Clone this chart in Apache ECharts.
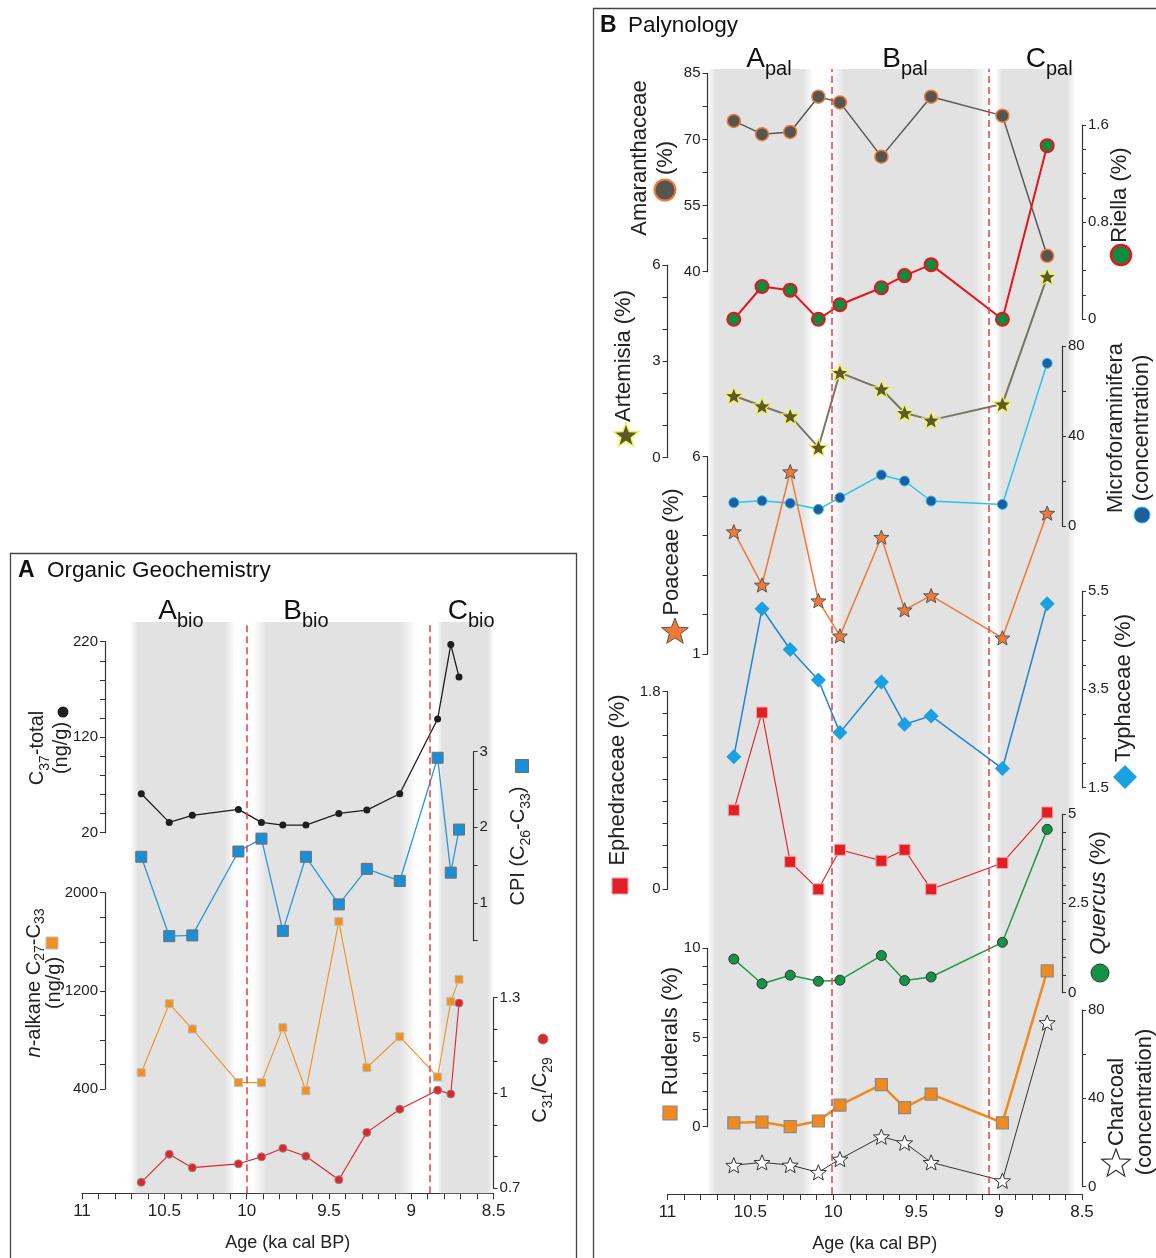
<!DOCTYPE html>
<html>
<head>
<meta charset="utf-8">
<script src="https://cdn.jsdelivr.net/npm/echarts@6/dist/echarts.min.js"></script>
<style>
html, body { margin: 0; padding: 0; background: #fff; }
#main { width: 1156px; height: 1258px; }
</style>
</head>
<body>
<div id="main"></div>
<script>
// ---- A: organic geochemistry ----
var agesA = [10.64, 10.47, 10.33, 10.05, 9.91, 9.78, 9.64, 9.44, 9.27, 9.07, 8.84, 8.76, 8.71];
var c37Total = [60.8, 30.8, 38.2, 44.4, 30.8, 28, 28, 40.2, 43.7, 60.8, 139, 217, 183];
var cpi = [1.61, 0.56, 0.57, 1.68, 1.85, 0.63, 1.61, 0.98, 1.45, 1.29, 2.92, 1.40, 1.97];
var nAlkane = [533, 1095, 889, 452, 452, 900, 386, 1766, 574, 826, 498, 1114, 1294];
var c31c29 = [0.719, 0.807, 0.765, 0.777, 0.799, 0.826, 0.801, 0.727, 0.876, 0.949, 1.009, 0.997, 1.283];
var zonesA = [[10.71, 10.07], [9.96, 8.97], [8.84, 8.48]];
var boundsA = [10.0, 8.89];

// ---- B: palynology ----
var agesB = [10.60, 10.43, 10.26, 10.09, 9.96, 9.71, 9.57, 9.41, 8.98, 8.71];
var amaranthaceae = [74.2, 71.2, 71.7, 79.7, 78.4, 66.1, null, 79.7, 75.4, 43.6];
var riella = [0, 0.27, 0.24, 0, 0.12, 0.26, 0.36, 0.45, 0, 1.43];
var artemisia = [1.93, 1.61, 1.30, 0.32, 2.65, 2.14, 1.40, 1.17, 1.67, 5.64];
var microforaminifera = [10.4, 11.2, 10.1, 7.4, 12.6, 22.7, 20.0, 11.1, 9.6, 72.3];
var poaceae = [4.10, 2.75, 5.62, 2.35, 1.46, 3.96, 2.12, 2.48, 1.41, 4.57];
var typhaceae = [2.13, 5.14, 4.31, 3.69, 2.62, 3.65, 2.79, 2.96, 1.89, 5.24];
var ephedraceae = [0.72, 1.61, 0.25, 0, 0.36, 0.26, 0.36, 0, 0.24, 0.70];
var quercus = [0.94, 0.25, 0.49, 0.32, 0.35, 1.04, 0.34, 0.44, 1.41, 4.57];
var ruderals = [0.22, 0.26, 0, 0.32, 1.21, 2.36, 1.07, 1.83, 0.22, 8.73];
var charcoal = [9.7, 11.0, 9.8, 6.5, 12.5, 22.6, 19.9, 11.0, 2.7, 74.3];
var zonesB = [[10.76, 10.12], [10.01, 9.06], [9.02, 8.54]];
var boundsB = [10.01, 9.06];

var F = 'Liberation Sans, Arial, Helvetica, sans-serif';
var STAR = 'path://M0,-10L2.6,-3.4L9.51,-3.09L4.1,1.4L5.88,8.09L0,4.3L-5.88,8.09L-4.1,1.4L-9.51,-3.09L-2.6,-3.4Z';

var chart = echarts.init(document.getElementById('main'));
var grid = [], xAxis = [], yAxis = [], series = [], graphic = [];

var panelA = { left: 82, width: 411.6 };
var panelB = { left: 667.5, width: 414.5 };

function labelFmt(list) {
  return function (v) {
    for (var i = 0; i < list.length; i++) {
      if (Math.abs(v - list[i]) < 1e-6) return String(list[i]);
    }
    return '';
  };
}

function pairs(ages, vals) {
  var out = [];
  for (var i = 0; i < ages.length; i++) {
    if (vals[i] != null) out.push([ages[i], vals[i]]);
  }
  return out;
}

// base grid: age axis, zone shading, zone boundaries
function addBase(p, top, bottom, zones, bounds) {
  grid.push({ left: p.left, width: p.width, top: top, height: bottom - top });
  var g = grid.length - 1;
  xAxis.push({
    type: 'value', gridIndex: g, min: 8.5, max: 11, interval: 0.5, inverse: true,
    name: 'Age (ka cal BP)', nameLocation: 'middle', nameGap: 41,
    nameTextStyle: { fontSize: 18, fontFamily: F, color: '#222' },
    axisLine: { lineStyle: { color: '#333', width: 1.2 } },
    axisTick: { length: 6, lineStyle: { color: '#333' } },
    minorTick: { show: true, splitNumber: 5, length: 6, lineStyle: { color: '#333' } },
    axisLabel: { fontSize: 17, fontFamily: F, color: '#222', margin: 10 },
    splitLine: { show: false }
  });
  yAxis.push({ type: 'value', gridIndex: g, min: 0, max: 1, show: false });
  var shade = new echarts.graphic.LinearGradient(0, 0, 1, 0, [
    { offset: 0, color: 'rgba(226,226,226,0)' },
    { offset: 0.08, color: '#e2e2e2' },
    { offset: 0.9, color: '#e2e2e2' },
    { offset: 1, color: 'rgba(226,226,226,0)' }
  ]);
  series.push({
    type: 'line', xAxisIndex: g, yAxisIndex: g, data: [], silent: true, z: 0,
    markArea: {
      silent: true, itemStyle: { color: shade },
      data: zones.map(function (z) { return [{ xAxis: z[0] }, { xAxis: z[1] }]; })
    },
    markLine: {
      silent: true, symbol: ['none', 'none'], label: { show: false },
      lineStyle: { color: '#ef3b3b', type: [7, 4], width: 1.5 },
      data: bounds.map(function (b) { return { xAxis: b }; })
    }
  });
}

// one record: its own grid and y axis, sharing the age scale
function addLayer(p, top, height, ax, st, ages, vals) {
  grid.push({ left: p.left, width: p.width, top: top, height: height });
  var g = grid.length - 1;
  var right = ax.pos === 'right';
  xAxis.push({ type: 'value', gridIndex: g, min: 8.5, max: 11, inverse: true, show: false });
  yAxis.push({
    type: 'value', gridIndex: g, min: ax.min, max: ax.max, interval: ax.interval,
    position: ax.pos, offset: ax.offset, z: 10,
    axisLine: { show: true, lineStyle: { color: '#333', width: 1.2 } },
    axisTick: { show: true, length: right ? 4 : 5, lineStyle: { color: '#333' } },
    axisLabel: { fontSize: 15, fontFamily: F, color: '#222', margin: right ? 6 : 7, formatter: labelFmt(ax.labels) },
    splitLine: { show: false }
  });
  series.push({
    type: 'line', xAxisIndex: g, yAxisIndex: g, data: pairs(ages, vals), clip: false,
    connectNulls: true, symbol: st.symbol, symbolSize: st.size, symbolKeepAspect: true,
    itemStyle: { color: st.fill, borderColor: st.border || st.fill, borderWidth: st.bw || 0 },
    lineStyle: { color: st.line, width: st.lw },
    emphasis: { disabled: true }, z: 3
  });
}

addBase(panelA, 622, 1193.3, zonesA, boundsA);
addLayer(panelA, 641.7, 191, { min: 20, max: 220, interval: 20, labels: [20, 120, 220], pos: 'left', offset: -23 },
  { symbol: 'circle', size: 7, fill: '#1e1e1e', line: '#1e1e1e', lw: 1.3 }, agesA, c37Total);
addLayer(panelA, 751.7, 189, { min: 0.5, max: 3, interval: 0.5, labels: [1, 2, 3], pos: 'right', offset: -20 },
  { symbol: 'rect', size: 11, fill: '#1a8fd6', border: '#6f6f6f', bw: 1, line: '#2a98d8', lw: 1.3 }, agesA, cpi);
addLayer(panelA, 892.7, 196.3, { min: 400, max: 2000, interval: 200, labels: [400, 1200, 2000], pos: 'left', offset: -23 },
  { symbol: 'rect', size: 8, fill: '#f0901e', border: '#bdbdbd', bw: 1, line: '#f0901e', lw: 1.1 }, agesA, nAlkane);
addLayer(panelA, 997.7, 190.6, { min: 0.7, max: 1.3, interval: 0.1, labels: [0.7, 1, 1.3], pos: 'right', offset: 0 },
  { symbol: 'circle', size: 8, fill: '#e3242b', border: '#8a8a8a', bw: 1, line: '#e3242b', lw: 1.1 }, agesA, c31c29);

addBase(panelB, 69, 1196, zonesB, boundsB);
addLayer(panelB, 73.3, 198.4, { min: 40, max: 85, interval: 7.5, labels: [40, 55, 70, 85], pos: 'left', offset: -40 },
  { symbol: 'circle', size: 13, fill: '#57554f', border: '#f07a3a', bw: 1.5, line: '#5a5852', lw: 1.5 }, agesB, amaranthaceae);
addLayer(panelB, 125, 194.3, { min: 0, max: 1.6, interval: 0.2, labels: [0, 0.8, 1.6], pos: 'right', offset: 0 },
  { symbol: 'circle', size: 13, fill: '#0c8c40', border: '#e8141b', bw: 2, line: '#e8141b', lw: 2 }, agesB, riella);
addLayer(panelB, 265, 192.7, { min: 0, max: 6, interval: 1, labels: [0, 3, 6], pos: 'left', offset: 0 },
  { symbol: STAR, size: 18, fill: '#5c5a26', border: '#f2f25a', bw: 1.2, line: '#7a7565', lw: 2 }, agesB, artemisia);
addLayer(panelB, 346, 180, { min: 0, max: 80, interval: 20, labels: [0, 40, 80], pos: 'right', offset: -20 },
  { symbol: 'circle', size: 10, fill: '#1e5e9e', border: '#27c4f0', bw: 1, line: '#27c4f0', lw: 1.5 }, agesB, microforaminifera);
addLayer(panelB, 456.7, 197.3, { min: 1, max: 6, interval: 1, labels: [1, 6], pos: 'left', offset: -40 },
  { symbol: STAR, size: 15, fill: '#f07a35', border: '#555', bw: 1, line: '#f07a35', lw: 1.5 }, agesB, poaceae);
addLayer(panelB, 591, 196.7, { min: 1.5, max: 5.5, interval: 0.5, labels: [1.5, 3.5, 5.5], pos: 'right', offset: 0 },
  { symbol: 'diamond', size: 15, fill: '#1aa1e2', line: '#1f87cf', lw: 1.5 }, agesB, typhaceae);
addLayer(panelB, 691.7, 197.6, { min: 0, max: 1.8, interval: 0.2, labels: [0, 1.8], pos: 'left', offset: 0 },
  { symbol: 'rect', size: 11, fill: '#e31e25', border: '#f4a3a3', bw: 1, line: '#e31e25', lw: 1.1 }, agesB, ephedraceae);
addLayer(panelB, 814, 178.7, { min: 0, max: 5, interval: 0.5, labels: [0, 2.5, 5], pos: 'right', offset: -20 },
  { symbol: 'circle', size: 10, fill: '#149344', border: '#333', bw: 1, line: '#1a9c48', lw: 1.5 }, agesB, quercus);
addLayer(panelB, 948.3, 178.4, { min: 0, max: 10, interval: 1, labels: [0, 5, 10], pos: 'left', offset: -40 },
  { symbol: 'rect', size: 12, fill: '#f08a1e', border: '#8a8a8a', bw: 1.2, line: '#f08a1e', lw: 2.5 }, agesB, ruderals);
addLayer(panelB, 1010, 176.7, { min: 0, max: 80, interval: 20, labels: [0, 40, 80], pos: 'right', offset: 0 },
  { symbol: STAR, size: 16, fill: '#ffffff', border: '#333', bw: 1, line: '#333', lw: 1 }, agesB, charcoal);

// ---- frames, headings, zone names ----
graphic.push({ type: 'rect', z: 50, shape: { x: 10.5, y: 553.5, width: 566, height: 730 }, style: { fill: 'none', stroke: '#444', lineWidth: 1.3 } });
graphic.push({ type: 'rect', z: 50, shape: { x: 593.5, y: 8.5, width: 580, height: 1280 }, style: { fill: 'none', stroke: '#444', lineWidth: 1.3 } });

function txt(x, y, s, font, align) {
  graphic.push({ type: 'text', z: 50, x: x, y: y, style: { text: s, font: font, fill: '#111', align: align || 'left', verticalAlign: 'middle' } });
}
txt(18, 571, 'A', 'bold 23px ' + F);
txt(47, 571, 'Organic Geochemistry', '22.5px ' + F);
txt(600, 26, 'B', 'bold 23px ' + F);
txt(628, 26, 'Palynology', '22.5px ' + F);

function zone(x, y, big, sub) {
  txt(x, y, big, '28px ' + F, 'right');
  txt(x, y + 10, sub, '20px ' + F, 'left');
}
zone(177, 611, 'A', 'bio');
zone(302, 611, 'B', 'bio');
zone(468, 611, 'C', 'bio');
zone(765, 59, 'A', 'pal');
zone(901, 59, 'B', 'pal');
zone(1046, 59, 'C', 'pal');

// ---- rotated axis titles ----
function vtitle(x, y, text, size, lh) {
  graphic.push({
    type: 'text', z: 50, x: x, y: y, rotation: Math.PI / 2,
    style: {
      text: text, align: 'center', verticalAlign: 'middle', fill: '#222',
      fontFamily: F, fontSize: size, lineHeight: lh,
      rich: {
        n: { fontFamily: F, fontSize: size, lineHeight: lh, fill: '#222' },
        i: { fontFamily: F, fontSize: size, lineHeight: lh, fill: '#222', fontStyle: 'italic' },
        s: { fontFamily: F, fontSize: Math.round(size * 0.72), lineHeight: lh, fill: '#222', verticalAlign: 'bottom', padding: [0, 0, -3, 0] }
      }
    }
  });
}
vtitle(49, 748, '{n|C}{s|37}{n|-total}\n{n|(ng/g)}', 20, 24);
vtitle(44, 983, '{i|n}{n|-alkane C}{s|27}{n|-C}{s|33}\n{n|(ng/g)}', 20, 20);
vtitle(518, 846, '{n|CPI (C}{s|26}{n|-C}{s|33}{n|)}', 20, 24);
vtitle(540, 1090, '{n|C}{s|31}{n|/C}{s|29}', 20, 24);

vtitle(653, 158, '{n|Amaranthaceae}\n{n|(%)}', 22, 26);
vtitle(1120, 195, '{n|Riella (%)}', 22, 26);
vtitle(624, 356, '{n|Artemisia (%)}', 22, 26);
vtitle(1129, 428, '{n|Microforaminifera}\n{n|(concentration)}', 22, 26);
vtitle(672, 552, '{n|Poaceae (%)}', 22, 26);
vtitle(1124, 688, '{n|Typhaceae (%)}', 22, 26);
vtitle(618, 780, '{n|Ephedraceae (%)}', 22, 26);
vtitle(1099, 893, '{i|Quercus}{n| (%)}', 22, 26);
vtitle(671, 1031, '{n|Ruderals (%)}', 22, 26);
vtitle(1131, 1102, '{n|Charcoal}\n{n|(concentration)}', 22, 28);

// ---- title key markers ----
function starPts(cx, cy, r) {
  var pts = [];
  for (var k = 0; k < 10; k++) {
    var rr = k % 2 === 0 ? r : r * 0.42;
    var a = -Math.PI / 2 + k * Math.PI / 5;
    pts.push([cx + rr * Math.cos(a), cy + rr * Math.sin(a)]);
  }
  return pts;
}
function dot(cx, cy, r, fill, stroke, lw) {
  graphic.push({ type: 'circle', z: 50, shape: { cx: cx, cy: cy, r: r }, style: { fill: fill, stroke: stroke || null, lineWidth: lw || 0 } });
}
function square(cx, cy, s, fill, stroke, lw) {
  graphic.push({ type: 'rect', z: 50, shape: { x: cx - s / 2, y: cy - s / 2, width: s, height: s }, style: { fill: fill, stroke: stroke || null, lineWidth: lw || 0 } });
}
function star(cx, cy, r, fill, stroke, lw) {
  graphic.push({ type: 'polygon', z: 50, shape: { points: starPts(cx, cy, r) }, style: { fill: fill, stroke: stroke, lineWidth: lw } });
}
dot(63, 712, 5.5, '#1e1e1e');
square(52, 943, 12, '#f0901e', '#bdbdbd', 1);
square(522, 766, 13, '#1a8fd6', '#6f6f6f', 1);
dot(543, 1039, 5, '#e3242b', '#8a8a8a', 1);

dot(665, 190, 10.5, '#57554f', '#f07a3a', 2);
dot(1121, 255, 10, '#0c8c40', '#e8141b', 2.5);
star(626, 436, 13, '#5c5a26', '#f2f25a', 1.5);
dot(1142, 515, 8, '#1e5e9e', '#27c4f0', 1);
star(675, 632, 14, '#f07a35', '#555', 1);
graphic.push({ type: 'polygon', z: 50, shape: { points: [[1125, 765], [1137, 777], [1125, 789], [1113, 777]] }, style: { fill: '#1aa1e2' } });
square(620, 886, 16, '#e31e25', '#f4a3a3', 1);
dot(1100, 973, 9, '#149344', '#333', 1);
square(670, 1113, 14, '#f08a1e', '#8a8a8a', 1.2);
star(1116, 1164, 15, '#ffffff', '#333', 1.2);

chart.setOption({
  animation: false,
  backgroundColor: '#fff',
  grid: grid,
  xAxis: xAxis,
  yAxis: yAxis,
  series: series,
  graphic: graphic
});
</script>
</body>
</html>
